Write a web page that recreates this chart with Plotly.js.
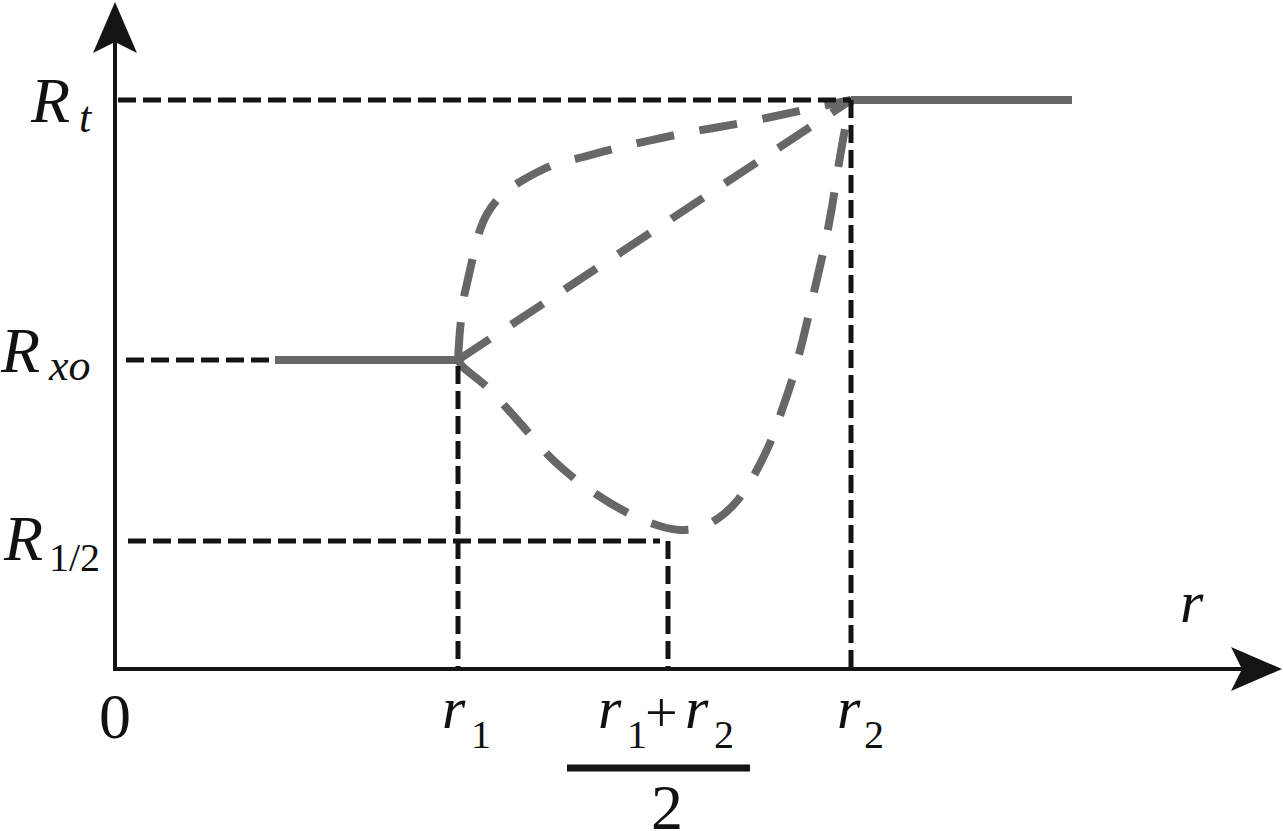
<!DOCTYPE html>
<html>
<head>
<meta charset="utf-8">
<script src="https://cdn.plot.ly/plotly-3.0.1.min.js"></script>
<style>
  html, body { margin: 0; padding: 0; background: #fff; }
  #plot { width: 1283px; height: 831px; }
  #plot .annotation-text { font-family: 'Liberation Serif', 'Times New Roman', serif !important; }
</style>
</head>
<body>
<div id="plot"></div>
<script>
// key positions on the r axis and R levels (chart units, origin at the axes corner)
let r1 = 343
let rMid = 553
let r2 = 736
let Rt = 569
let Rxo = 309
let Rhalf = 128

// solid plateaus
let leftFlatX = [160, r1]
let leftFlatY = [Rxo, Rxo]
let rightFlatX = [r2, 957]
let rightFlatY = [Rt, Rt]

// upper (concave) transition
let upperX = [343, 345, 349, 353, 358, 364, 372, 382, 394, 408, 438, 468, 502, 565, 632, 698, 736]
let upperY = [309, 339, 372, 390, 412, 436, 455, 469, 480, 489, 504, 512, 521, 535, 547, 561, 569]

// straight transition
let linearX = [r1, r2]
let linearY = [Rxo, Rt]

// lower transition with a dip to R1/2
let lowerX = [343, 348, 372, 405, 435, 465, 495, 525, 548, 565, 585, 605, 622, 638, 655, 668, 678, 688, 702, 710, 717, 723, 730, 736]
let lowerY = [309, 302, 282, 246, 212, 186, 166, 150, 142, 139, 141, 152, 168, 192, 226, 262, 292, 330, 390, 425, 462, 500, 540, 569]

// guide lines
let guides = [
    {x: [3, r2], y: [Rt, Rt]},
    {x: [11, 160], y: [Rxo, Rxo]},
    {x: [13, rMid - 8], y: [Rhalf, Rhalf]},
    {x: [r1, r1], y: [Rxo - 6, 0]},
    {x: [rMid, rMid], y: [Rhalf, 0]},
    {x: [r2, r2], y: [Rt, 0]}
]

let gray = '#676767'
let black = '#141414'
let traces = []

traces.push({x: leftFlatX, y: leftFlatY, mode: 'lines', line: {color: gray, width: 8}})
traces.push({x: rightFlatX, y: rightFlatY, mode: 'lines', line: {color: gray, width: 8}})

let curves = [[upperX, upperY], [linearX, linearY], [lowerX, lowerY]]
for (let i = 0; i < curves.length; i++) {
    traces.push({
        x: curves[i][0], y: curves[i][1], mode: 'lines',
        line: {color: gray, width: 8, dash: '38px,26px', shape: 'spline', smoothing: 0.8}
    })
}

for (let i = 0; i < guides.length; i++) {
    traces.push({
        x: guides[i].x, y: guides[i].y, mode: 'lines',
        line: {color: black, width: 5, dash: '18px,7px'}
    })
}

// axes with arrow heads
let xEnd = 1167
let yEnd = 667
let head = 51
let half = 22
let notch = 11
let shapes = [
    {type: 'line', x0: 0, y0: -2, x1: 0, y1: yEnd - head + notch, line: {color: black, width: 4}},
    {type: 'line', x0: -2, y0: 0, x1: xEnd - head + notch, y1: 0, line: {color: black, width: 4}},
    {type: 'path', fillcolor: black, line: {width: 0},
     path: 'M0,' + yEnd + ' L' + (-half) + ',' + (yEnd - head) + ' L0,' + (yEnd - head + notch) +
           ' L' + half + ',' + (yEnd - head) + ' Z'},
    {type: 'path', fillcolor: black, line: {width: 0},
     path: 'M' + xEnd + ',0 L' + (xEnd - head) + ',' + half + ' L' + (xEnd - head + notch) + ',0 L' +
           (xEnd - head) + ',' + (-half) + ' Z'},
    // fraction bar under r1+r2
    {type: 'line', x0: 452, y0: -99, x1: 635, y1: -99, line: {color: black, width: 7}}
]

let serif = 'Liberation Serif'
function lab(text, xLeft, basePx, size, anchor) {
    // place text so its baseline sits at page pixel basePx
    let midPx = basePx - 0.3375 * size
    return {
        text: text, x: xLeft / 1283, y: 1 - midPx / 831, xref: 'paper', yref: 'paper',
        xanchor: anchor || 'left', yanchor: 'middle', showarrow: false,
        font: {family: serif, size: size, color: '#111'}
    }
}
let annotations = [
    lab('<i>R</i>', 28, 122, 64),
    lab('<i>t</i>', 77, 132, 44),
    lab('<i>R</i>', -2, 372, 64),
    lab('<i>xo</i>', 46, 380, 44),
    lab('<i>R</i>', 1, 560, 64),
    lab('1/2', 47, 571, 40),
    lab('0', 115, 738, 64, 'center'),
    lab('<i>r</i>', 440, 728, 60),
    lab('1', 469, 748, 40),
    lab('<i>r</i>', 596, 728, 60),
    lab('1', 625, 748, 40),
    lab('+', 643, 732, 58),
    lab('<i>r</i>', 683, 728, 60),
    lab('2', 712, 748, 40),
    lab('2', 667, 829, 64, 'center'),
    lab('<i>r</i>', 835, 728, 60),
    lab('2', 862, 748, 40),
    lab('<i>r</i>', 1178, 622, 60)
]

let layout = {
    width: 1283,
    height: 831,
    margin: {l: 0, r: 0, t: 0, b: 0},
    paper_bgcolor: '#fff',
    plot_bgcolor: '#fff',
    showlegend: false,
    xaxis: {range: [-115, 1168], visible: false, fixedrange: true},
    yaxis: {range: [-162, 669], visible: false, fixedrange: true},
    shapes: shapes,
    annotations: annotations
}

Plotly.newPlot('plot', traces, layout, {displayModeBar: false})
</script>
</body>
</html>
